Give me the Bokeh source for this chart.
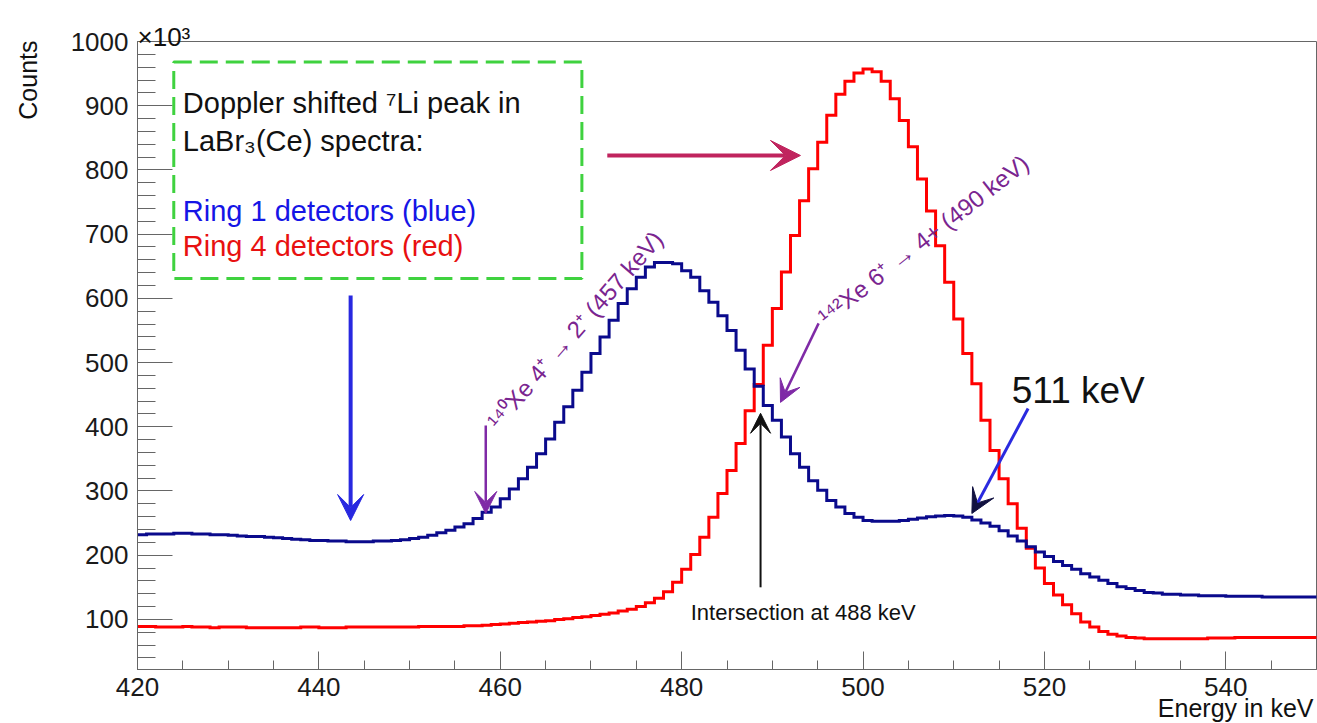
from bokeh.plotting import figure
from bokeh.models import (Label, Arrow, VeeHead, BoxAnnotation, LinearAxis,
                          SingleIntervalTicker, Range1d)
from bokeh.embed import file_html
from bokeh.resources import INLINE

# ---------------- data (counts in units of 10^3, 1 keV bins starting at 420 keV)
bin_start = 420
bin_width = 1

ring1_blue = [
    232, 233, 233, 233, 234, 234, 233, 233, 232, 232,
    231, 230, 229, 229, 228, 227, 226, 225, 224, 223,
    223, 222, 222, 221, 221, 221, 222, 222, 223, 224,
    226, 228, 231, 235, 239,
    244, 249, 257, 267, 275, 288, 303, 319, 337, 358,
    381, 407, 431, 457, 485, 514, 540, 566, 592, 615,
    633, 649, 656, 656, 654, 643, 633, 612, 594, 573,
    550, 519, 490, 463,
    433, 410, 384, 358, 337, 316, 301, 285, 275, 265, 259,
    254, 253, 253, 253, 254, 256, 258, 260, 261, 262,
    261, 259, 255, 250, 245, 238, 230, 222, 213, 205,
    198, 190, 184, 178, 171, 166, 161, 156, 151, 148,
    145, 142, 141, 139, 139, 138, 138, 137, 137, 137,
    136, 136, 136, 136, 135, 135, 135, 135, 135, 135,
]

ring4_red = [
    89, 89, 88, 88, 88, 89, 88, 88, 87, 88,
    88, 88, 87, 87, 87, 87, 87, 87, 88, 88,
    87, 87, 87, 88, 88, 88, 88, 88, 88, 88,
    88, 89, 89, 89, 89,
    89, 90, 90, 91, 92, 93, 94, 95, 96, 97, 98, 100, 101, 103, 104, 106,
    108, 110, 113, 116, 120, 126, 133, 143, 158, 178,
    201, 228, 259, 296, 332, 374, 425, 466, 527,
    584, 641, 698, 752, 802, 843, 885, 918, 938, 951, 957,
    953, 938, 911, 877, 836, 786, 736, 682, 625, 568,
    514, 467, 410, 363, 319, 280, 242, 211, 180, 156, 138, 123,
    109, 96, 88, 81, 77, 74, 72, 71, 70, 70,
    70, 70, 70, 70, 70, 71, 71, 71, 72, 72,
    72, 72, 72, 72, 72, 72, 72,
]

# axis extents of the histogram frame
x_lo, x_hi = 420, 550
y_lo, y_hi = 22, 1000
x_major, x_minor_n = 20, 4
y_major, y_minor_n = 100, 5

# ---------------- figure: the frame covers the whole canvas, the axes are
# placed at the histogram frame's edges
W, H = 1317, 723
frame_px = dict(left=137, right=1316, top=41, bottom=669)
sx = (frame_px["right"] - frame_px["left"]) / (x_hi - x_lo)
sy = (frame_px["bottom"] - frame_px["top"]) / (y_hi - y_lo)
view_x0 = x_lo - frame_px["left"] / sx
view_x1 = view_x0 + W / sx
view_y1 = y_hi + frame_px["top"] / sy
view_y0 = view_y1 - H / sy

FONT = "Liberation Sans"
AX = "#666666"
p = figure(width=W, height=H,
           x_range=Range1d(view_x0, view_x1), y_range=Range1d(view_y0, view_y1),
           x_axis_type=None, y_axis_type=None,
           output_backend="svg", toolbar_location=None,
           min_border=0, min_border_left=0, min_border_right=0,
           min_border_top=0, min_border_bottom=0)
p.grid.visible = False
p.background_fill_color = "white"
p.border_fill_color = "white"
p.outline_line_color = None

xa = LinearAxis(fixed_location=y_lo, bounds=(x_lo, x_hi),
                ticker=SingleIntervalTicker(interval=x_major, num_minor_ticks=x_minor_n))
xa.major_tick_in = 18
xa.major_tick_out = 0
xa.minor_tick_in = 9
xa.minor_tick_out = 0
xa.major_label_standoff = 8

ya = LinearAxis(fixed_location=x_lo, bounds=(y_lo, y_hi),
                ticker=SingleIntervalTicker(interval=y_major, num_minor_ticks=y_minor_n))
ya.major_tick_in = 35
ya.major_tick_out = 0
ya.minor_tick_in = 18
ya.minor_tick_out = 0
ya.major_label_standoff = 9

for ax in (xa, ya):
    ax.axis_line_color = AX
    ax.major_tick_line_color = AX
    ax.minor_tick_line_color = AX
    ax.major_label_text_font = FONT
    ax.major_label_text_font_size = "26px"
    ax.major_label_text_color = "#1a1a1a"
p.add_layout(xa, "below")
p.add_layout(ya, "left")

# frame outline (top and right sides)
p.add_layout(BoxAnnotation(left=x_lo, right=x_hi, bottom=y_lo, top=y_hi,
                           fill_alpha=0, line_color=AX, line_alpha=1,
                           line_width=1, level="underlay"))

# ---------------- histograms
edges = [bin_start + i * bin_width for i in range(len(ring1_blue) + 1)]
p.step(edges, ring4_red + [ring4_red[-1]], mode="after",
       line_color="#ff0000", line_width=3, line_join="miter")
p.step(edges, ring1_blue + [ring1_blue[-1]], mode="after",
       line_color="#0a0a8c", line_width=3, line_join="miter")

# ---------------- axis titles
p.add_layout(Label(x=view_x0 + 27 / sx, y=y_hi + 1 / sy,
                   text="Counts", angle=90, angle_units="deg",
                   text_align="right", text_baseline="alphabetic",
                   text_font=FONT, text_font_size="25px", text_color="#111111"))
p.add_layout(Label(x=view_x0 + 1313 / sx, y=y_hi - (707 - 41) / sy,
                   text="Energy in keV", text_align="right",
                   text_baseline="alphabetic",
                   text_font=FONT, text_font_size="25px", text_color="#111111"))
p.add_layout(Label(x=x_lo, y=y_hi + 5 / sy,
                   text="×10³", text_align="left", text_baseline="alphabetic",
                   text_font=FONT, text_font_size="26px", text_color="#111111"))

# ---------------- legend box
p.add_layout(BoxAnnotation(left=424.0, right=469.0, bottom=631, top=968,
                           fill_alpha=0, line_color="#3fd23f", line_alpha=1,
                           line_width=3, line_dash="18 8"))
box_lines = [
    ("Doppler shifted ⁷Li peak in", 903.5, "#111111"),
    ("LaBr₃(Ce) spectra:", 845.8, "#111111"),
    ("Ring 1 detectors (blue)", 736.8, "#1515e6"),
    ("Ring 4 detectors (red)", 682.3, "#e81010"),
]
for txt, yy, col in box_lines:
    p.add_layout(Label(x=425.0, y=yy, text=txt, text_align="left",
                       text_baseline="alphabetic", text_font=FONT,
                       text_font_size="29px", text_color=col))

# ---------------- arrows
def arrow(x0, y0, x1, y1, color, width, head_size, head_color=None):
    hc = head_color or color
    p.add_layout(Arrow(x_start=x0, y_start=y0, x_end=x1, y_end=y1,
                       line_color=color, line_width=width,
                       end=VeeHead(size=head_size, fill_color=hc,
                                   line_color=hc, line_width=1)))

arrow(443.5, 604.5, 443.5, 254, "#2828e0", 4, 26)            # box -> blue flat
arrow(471.8, 822.5, 493.1, 822.5, "#c0245e", 4, 30)          # box -> red peak
arrow(458.4, 402, 458.4, 265, "#7f2aa6", 2.5, 22)             # 140Xe
arrow(495.1, 561, 490.9, 438, "#7f2aa6", 2.5, 22)             # 142Xe
arrow(518.2, 428.5, 512.0, 265, "#2a2adf", 3, 24, "#111140")  # 511 keV
arrow(488.7, 150, 488.7, 421, "#111111", 2, 20)               # intersection

# ---------------- annotations
purple = "#7a2590"
p.add_layout(Label(x=459.1, y=402, text="¹⁴⁰Xe 4⁺ → 2⁺ (457 keV)",
                   angle=49, angle_units="deg", text_align="left",
                   text_baseline="alphabetic", text_font=FONT,
                   text_font_size="24px", text_color=purple))
p.add_layout(Label(x=495.4, y=567, text="¹⁴²Xe 6⁺ → 4+ (490 keV)",
                   angle=38, angle_units="deg", text_align="left",
                   text_baseline="alphabetic", text_font=FONT,
                   text_font_size="24px", text_color=purple))
p.add_layout(Label(x=516.4, y=456.5, text="511 keV", text_align="left",
                   text_baseline="alphabetic", text_font=FONT,
                   text_font_size="37px", text_color="#111111"))
p.add_layout(Label(x=481.0, y=111.3, text="Intersection at 488 keV",
                   text_align="left", text_baseline="alphabetic",
                   text_font=FONT, text_font_size="22px", text_color="#111111"))

open("out.html", "w").write(file_html(p, INLINE))
